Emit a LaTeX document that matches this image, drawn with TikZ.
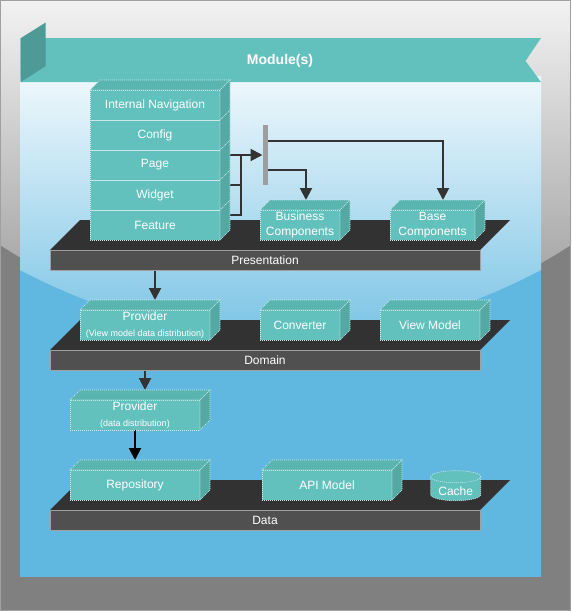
\documentclass[tikz,border=0pt]{standalone}
\usepackage{fontspec}
\setmainfont{Liberation Sans}
\usetikzlibrary{calc,arrows.meta}
\definecolor{teal1}{HTML}{63C1BD}
\definecolor{tealtop}{HTML}{5AB4B0}
\definecolor{tealside}{HTML}{54A9A5}
\definecolor{tealdark}{HTML}{4E9A96}
\definecolor{dotc}{HTML}{D0ECEA}
\definecolor{platTop}{HTML}{323232}
\definecolor{platFront}{HTML}{505050}
\definecolor{platBorder}{HTML}{A0A0A0}
\definecolor{lineC}{HTML}{333333}
\definecolor{blueP}{HTML}{60B8E0}
\definecolor{grayO}{HTML}{808080}
\definecolor{gA}{HTML}{F2F2F2}
\definecolor{gB}{HTML}{8D8D8D}
\definecolor{pA}{HTML}{EFF8FC}
\definecolor{pB}{HTML}{70BFE3}
\definecolor{barC}{HTML}{9E9E9E}
\pgfdeclarelayer{bg}
\pgfdeclarelayer{conn}
\pgfsetlayers{bg,conn,main}
\newcommand\mycube[6]{%
  \node[cubefront, minimum width=#4pt-10pt, minimum height=#5pt-10pt] (#1) at (#2,#3+10) {#6};
  \filldraw[cubetop] (#1.north west) -- ++(10,-10) -- ++(#4-10,0) -- (#1.north east) -- cycle;
  \filldraw[cubeside] (#1.north east) -- ++(10,-10) -- ++(0,#5-10) -- (#1.south east) -- cycle;
  \coordinate (#1-top) at ($(#1.north)+(0,-10)$);
  \coordinate (#1-side) at ($(#1.east)+(10,-10)$);
}
\newcommand\platform[3]{%
  \fill[platTop] (50,#2+30) -- (80,#2) -- (510,#2) -- (480,#2+30) -- cycle;
  \node[platfront] (#1) at (265,#2+40) {#3};
}
\begin{document}
\begin{tikzpicture}[x=1pt,y=-1pt,
  dots/.style={draw=dotc, dash pattern=on 1pt off 1pt, line width=0.6pt},
  cubefront/.style={fill=teal1, dots, text=white, font=\fontsize{12}{15}\selectfont,
    inner sep=0pt, outer sep=0pt, align=center, anchor=north west},
  cubetop/.style={fill=tealtop, dots},
  cubeside/.style={fill=tealside, dots},
  platfront/.style={fill=platFront, draw=platBorder, line width=0.8pt, text=white,
    font=\fontsize{12}{14}\selectfont, minimum width=430pt, minimum height=20pt,
    inner sep=0pt, outer sep=0pt},
  conn/.style={draw=lineC, line width=2pt},
  arr/.style={-{Triangle[length=12pt,width=12pt]}},
  small/.style={font=\fontsize{9}{10}\selectfont}
]
\useasboundingbox (0,0) rectangle (571,611);
\begin{pgfonlayer}{bg}
  \fill[grayO] (0,0) rectangle (571,611);
  \shade[top color=gA, bottom color=gB] (0,0) -- (0,245) .. controls (190.3,367) and (380.7,367) .. (571,245) -- (571,0) -- cycle;
  \draw[draw=platBorder, line width=1pt] (0.5,0.5) rectangle (570.5,610.5);
  \fill[blueP] (20,76) rectangle (541,577);
  \shade[top color=pA, bottom color=pB] (20,76) -- (20,270) .. controls (193.7,360.7) and (367.3,360.7) .. (541,270) -- (541,76) -- cycle;
  \fill[teal1] (20.7,38) -- (541,38) -- (525.5,61) -- (541,82) -- (20.7,82) -- cycle;
  \fill[tealdark] (20.7,38.2) -- (45.5,22.6) -- (45.5,66.3) -- (20.7,82) -- cycle;
  \node[text=white, font=\bfseries\fontsize{14}{16}\selectfont] (mod) at (280,61) {Module(s)};
\end{pgfonlayer}

% platforms
\platform{pres}{220}{Presentation}
\platform{dom}{320}{Domain}
\platform{dat}{480}{Data}

% stack (bottom to top)
\mycube{feat}{90}{200}{140}{40}{Feature}
\mycube{wid}{90}{170}{140}{40}{Widget}
\mycube{page}{90}{140}{140}{40}{Page}
\mycube{conf}{90}{110}{140}{40}{Config}
\mycube{nav}{90}{80}{140}{40}{Internal Navigation}

\mycube{bus}{260}{200}{90}{40}{Business\\Components}
\mycube{base}{390}{200}{95}{40}{Base\\Components}

\mycube{pv}{80}{300}{140}{40}{Provider\\[0.5pt]{\fontsize{9}{10}\selectfont(View model data distribution)}}
\mycube{conv}{260}{300}{90}{40}{Converter}
\mycube{vm}{380}{300}{110}{40}{View Model}

\mycube{pd}{70}{390}{140}{40}{Provider\\[0.5pt]{\fontsize{9}{10}\selectfont(data distribution)}}
\mycube{repo}{70}{460}{140}{40}{Repository}
\mycube{api}{262}{460}{140}{40}{API Model}

% cache cylinder
\filldraw[fill=teal1, dots] (430.7,476.7) -- (430.7,494.7) arc[start angle=180, end angle=360, x radius=25pt, y radius=6pt] -- (480.7,476.7) -- cycle;
\filldraw[fill=teal1, dots] (455.7,476.7) ellipse [x radius=25pt, y radius=6pt];
\node[text=white, font=\fontsize{12}{14}\selectfont, inner sep=0pt] (cache) at (455.7,491) {Cache};

% fork bar
\node[fill=barC, minimum width=5pt, minimum height=60pt, inner sep=0pt, outer sep=0pt] (bar) at (265,155) {};

\begin{pgfonlayer}{conn}
  \coordinate (jn) at ($(page-side)+(11,0)$);
  \draw[conn] (wid-side) -| (jn);
  \draw[conn] (feat-side) -| (jn);
  \draw[conn, arr] (page-side) -- (bar.west);
  \draw[conn, arr] (bar.east |- 0,141) -| (base-top -| 443,0);
  \draw[conn, arr] (bar.east |- 0,170) -| (bus-top -| 306,0);
  \draw[conn, arr] (feat.south) -- (feat.south |- pv-top);
  \draw[conn, arr] (pv.south) -- (pv.south |- pd-top);
  \draw[conn, draw=black, arr] (pd.south) -- (pd.south |- repo-top);
\end{pgfonlayer}
\end{tikzpicture}
\end{document}
